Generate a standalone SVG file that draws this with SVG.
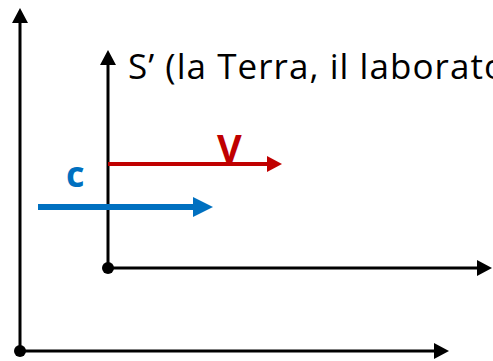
<svg xmlns="http://www.w3.org/2000/svg" width="493" height="361" viewBox="0 0 493 361">
  <style>
    .axis { stroke: #000; stroke-width: 3; fill: none; }
    .origin { fill: #000; }
    .vel-v { stroke: #C00000; stroke-width: 4; fill: none; }
    .vel-c { stroke: #0070C0; stroke-width: 6; fill: none; }
    .title { font-family: "Open Sans", "Noto Sans", sans-serif; font-size: 35px; fill: #000; }
    .lbl { font-family: "Open Sans", "Noto Sans", sans-serif; font-weight: bold; }
  </style>
  <defs>
    <marker id="head-black" markerUnits="userSpaceOnUse" markerWidth="15" markerHeight="16" refX="0" refY="8" orient="auto">
      <path d="M0,0 L15,8 L0,16 Z" fill="#000"/>
    </marker>
    <marker id="head-red" markerUnits="userSpaceOnUse" markerWidth="15" markerHeight="16" refX="0" refY="8" orient="auto">
      <path d="M0,0 L15,8 L0,16 Z" fill="#C00000"/>
    </marker>
    <marker id="head-blue" markerUnits="userSpaceOnUse" markerWidth="20" markerHeight="20" refX="0" refY="10" orient="auto">
      <path d="M0,0 L20,10 L0,20 Z" fill="#0070C0"/>
    </marker>
  </defs>
  <rect width="493" height="361" fill="#fff"/>

  <!-- reference frame S (outer axes) -->
  <g id="frame-S">
    <line class="axis" x1="20" y1="351" x2="20" y2="23" marker-end="url(#head-black)"/>
    <line class="axis" x1="20" y1="351" x2="434" y2="351" marker-end="url(#head-black)"/>
    <circle class="origin" cx="20" cy="351" r="6"/>
  </g>

  <!-- reference frame S' (inner axes) -->
  <g id="frame-S-prime">
    <line class="axis" x1="108" y1="268" x2="108" y2="65" marker-end="url(#head-black)"/>
    <line class="axis" x1="108" y1="268" x2="477" y2="268" marker-end="url(#head-black)"/>
    <circle class="origin" cx="108" cy="268" r="6"/>
    <text class="title" x="128" y="79" textLength="377" lengthAdjust="spacing">S’ (la Terra, il laborato</text>
  </g>

  <!-- velocity arrows -->
  <g id="connectors">
    <line class="vel-v" x1="108" y1="164" x2="267" y2="164" marker-end="url(#head-red)"/>
    <line class="vel-c" x1="38" y1="207" x2="193" y2="207" marker-end="url(#head-blue)"/>
  </g>

  <g id="label-v">
    <text class="lbl" x="217" y="162" font-size="38" fill="#C00000">V</text>
  </g>
  <g id="label-c">
    <text class="lbl" x="66" y="187" font-size="36" fill="#0070C0">c</text>
  </g>
</svg>
